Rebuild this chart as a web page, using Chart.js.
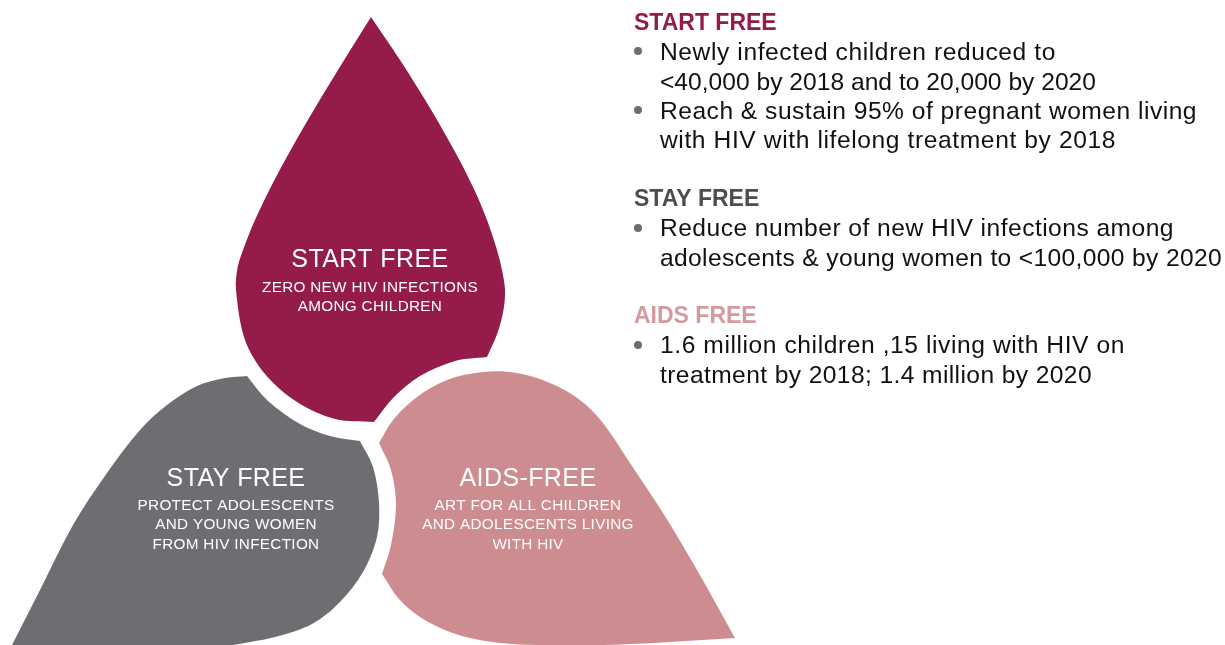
<!DOCTYPE html>
<html>
<head>
<meta charset="utf-8">
<title>Start Free, Stay Free, AIDS-Free</title>
<script src="https://cdn.jsdelivr.net/npm/chart.js"></script>
<style>
  html,body{margin:0;padding:0;background:#fff}
  #wrap{width:1225px;height:645px}
</style>
</head>
<body>
<div id="wrap"><canvas id="drops" width="1225" height="645"></canvas></div>
<script>
// outlines, corners listed twice so the spline keeps them sharp
const startX=[371,371,400,427,454,473,487,497,502,505,503.5,497.5,487,487,455,420,393,374,374,335,297,265,245,236,237.5,243,255,276,298,321.5,346,371];
const startY=[17,17,60,103,150,187,220,250,270,290,310,333,357,357,361,376,398,422,422,419,402,374,340,290,268,250,220,177,137,97,57,17];
const stayX=[247,247,268,300,330,360,360,373,379,377,363,340,312,275,233,233,12,12,40,73,107,140,167,197,225,247];
const stayY=[376,376,401,424,436,441,441,467,503,537,572,602,624,637,645,645,645,645,590,525,473,430,405,386,378,376];
const aidsX=[379,379,393,417,447,483,517,550,580,603,630,663,697,735,735,670,603,537,500,470,445,420,399,382,382,391,396,391,379];
const aidsY=[443,443,420,397,380,372,373,383,400,423,463,513,570,638,638,642,645,645,643,638,630,617,599,574,574,545,505,470,443];
const bulletX=[638,638,638,638];
const bulletY=[51,110,228,345];

const dropTitles=['START FREE','STAY FREE','AIDS-FREE'];
const dropLines=[
  ['ZERO NEW HIV INFECTIONS','AMONG CHILDREN'],
  ['PROTECT ADOLESCENTS','AND YOUNG WOMEN','FROM HIV INFECTION'],
  ['ART FOR ALL CHILDREN','AND ADOLESCENTS LIVING','WITH HIV']
];
const sideHeads=['START FREE','STAY FREE','AIDS FREE'];
const sideLines=[
  ['Newly infected children reduced to','<40,000 by 2018 and to 20,000 by 2020','Reach & sustain 95% of pregnant women living','with HIV with lifelong treatment by 2018'],
  ['Reduce number of new HIV infections among','adolescents & young women to <100,000 by 2020'],
  ['1.6 million children ,15 living with HIV on','treatment by 2018; 1.4 million by 2020']
];

function pts(xs,ys){ return xs.map((x,i)=>({x,y:ys[i]})); }
function drop(label,xs,ys,color){
  return {label,data:pts(xs,ys),showLine:true,fill:'shape',backgroundColor:color,borderColor:color,borderWidth:0,pointRadius:0,tension:0.33,clip:false};
}

// text sits on the canvas, placed in axis units like the marks
const textPlugin={
  id:'texts',
  afterDatasetsDraw(chart){
    const {ctx,scales:{x,y}}=chart;
    function put(s,px,py,font,color,align,sp){
      ctx.font=font; ctx.fillStyle=color; ctx.textAlign=align; ctx.textBaseline='alphabetic';
      ctx.letterSpacing=(sp||0)+'px';
      ctx.fillText(s,x.getPixelForValue(px),y.getPixelForValue(py));
    }
    ctx.save();
    const F='"Liberation Sans"';
    const dropPos=[[370,267,[292,311]],[236,486,[510,529,549]],[528,486,[510,529,549]]];
    dropTitles.forEach((t,i)=>{
      const [cx,by,ls]=dropPos[i];
      put(t,cx,by,'25px '+F,'#ffffff','center',0.4);
      dropLines[i].forEach((l,j)=>put(l,cx,ls[j],'15.3px '+F,'#ffffff','center',0.3));
    });
    const headY=[30,206,323], headCol=['#951b4a','#4d4d4f','#d49a9e'];
    const lineY=[[60,90,119,148],[236,266],[353,383]];
    // right-hand end of each body line, the tracking is fitted to it
    const lineEnd=[[1056,1096,1197,1116],[1174,1222],[1125,1092]];
    sideHeads.forEach((h,i)=>{
      put(h,634,headY[i],'bold 23px '+F,headCol[i],'left',0);
      sideLines[i].forEach((l,j)=>{
        const font='24.6px '+F;
        ctx.font=font; ctx.letterSpacing='0px';
        const sp=(lineEnd[i][j]-660-ctx.measureText(l).width)/l.length;
        put(l,660,lineY[i][j],font,'#111111','left',sp);
      });
    });
    ctx.restore();
  }
};

new Chart(document.getElementById('drops'),{
  type:'scatter',
  data:{datasets:[
    drop('Start free',startX,startY,'#951b4a'),
    drop('Stay free',stayX,stayY,'#6d6e71'),
    drop('AIDS-free',aidsX,aidsY,'#cd8c8f'),
    {label:'Bullets',data:pts(bulletX,bulletY),pointRadius:4,pointBackgroundColor:'#6d6e71',pointBorderWidth:0,showLine:false}
  ]},
  options:{
    responsive:false,animation:false,
    layout:{padding:0,autoPadding:false},
    plugins:{legend:{display:false},tooltip:{enabled:false}},
    scales:{
      x:{type:'linear',display:false,min:0,max:1225},
      y:{type:'linear',display:false,min:0,max:645,reverse:true}
    }
  },
  plugins:[textPlugin]
});
</script>
</body>
</html>
